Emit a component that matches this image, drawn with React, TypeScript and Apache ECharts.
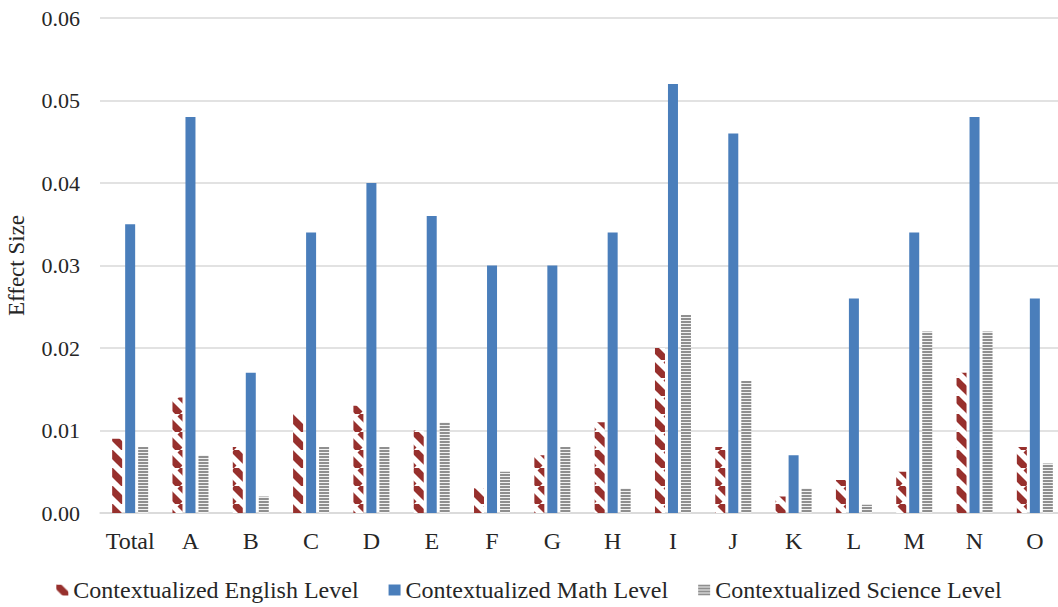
import React, { useEffect, useRef } from "react";
import * as echarts from "echarts";

const categories = ["Total", "A", "B", "C", "D", "E", "F", "G", "H", "I", "J", "K", "L", "M", "N", "O"];
const englishValues = [0.009, 0.014, 0.008, 0.012, 0.013, 0.010, 0.003, 0.007, 0.011, 0.020, 0.008, 0.002, 0.004, 0.005, 0.017, 0.008];
const mathValues = [0.035, 0.048, 0.017, 0.034, 0.040, 0.036, 0.030, 0.030, 0.034, 0.052, 0.046, 0.007, 0.026, 0.034, 0.048, 0.026];
const scienceValues = [0.008, 0.007, 0.002, 0.008, 0.008, 0.011, 0.005, 0.008, 0.003, 0.024, 0.016, 0.003, 0.001, 0.022, 0.022, 0.006];
const seriesNames = ["Contextualized English Level", "Contextualized Math Level", "Contextualized Science Level"];

function diagPattern(): string {
  const T = 18;
  const c = document.createElement("canvas");
  c.width = T;
  c.height = T;
  const ctx = c.getContext("2d")!;
  ctx.fillStyle = "#ffffff";
  ctx.fillRect(0, 0, T, T);
  ctx.strokeStyle = "#97302d";
  ctx.lineWidth = 7;
  for (const k of [-T, 0, T]) {
    ctx.beginPath();
    ctx.moveTo(k, 0);
    ctx.lineTo(k + T, T);
    ctx.stroke();
  }
  return c.toDataURL();
}

function hPattern(): string {
  const c = document.createElement("canvas");
  c.width = 4;
  c.height = 3;
  const ctx = c.getContext("2d")!;
  ctx.fillStyle = "#f2f2f2";
  ctx.fillRect(0, 0, 4, 3);
  ctx.fillStyle = "#8f8f8f";
  ctx.fillRect(0, 0, 4, 2);
  return c.toDataURL();
}

export default function App() {
  const ref = useRef<HTMLDivElement>(null);
  useEffect(() => {
    if (!ref.current) return;
    const chart = echarts.init(ref.current, undefined, { renderer: "svg" });
    const font = "'Liberation Serif', 'Times New Roman', serif";
    const txt = "#262626";
    const engColor: any = { image: diagPattern(), repeat: "repeat" };
    const sciColor: any = { image: hPattern(), repeat: "repeat" };
    chart.setOption({
      animation: false,
      backgroundColor: "#ffffff",
      textStyle: { fontFamily: font },
      grid: { left: 100, width: 965, top: 18, bottom: 94, containLabel: false, outerBoundsMode: "none" },
      legend: {
        top: 573,
        left: "center",
        itemWidth: 12,
        itemHeight: 11,
        itemGap: 30,
        textStyle: { fontFamily: font, fontSize: 24, color: txt },
        icon: "rect",
        data: seriesNames,
      },
      xAxis: {
        type: "category",
        data: categories,
        axisLine: { lineStyle: { color: "#d9d9d9", width: 1.5 } },
        axisTick: { show: false },
        axisLabel: { fontFamily: font, fontSize: 24, color: txt, margin: 16, interval: 0 },
      },
      yAxis: {
        type: "value",
        min: 0,
        max: 0.06,
        interval: 0.01,
        name: "Effect Size",
        nameLocation: "middle",
        nameGap: 72,
        nameTextStyle: { fontFamily: font, fontSize: 23, color: txt },
        axisLine: { show: false },
        axisTick: { show: false },
        splitLine: { lineStyle: { color: "#d9d9d9", width: 1.5 } },
        axisLabel: {
          fontFamily: font,
          fontSize: 22,
          color: txt,
          margin: 20,
          formatter: (v: number) => v.toFixed(2),
        },
      },
      series: [
        { name: seriesNames[0], type: "bar", data: englishValues, barWidth: 10, barGap: "30%", itemStyle: { color: engColor } },
        { name: seriesNames[1], type: "bar", data: mathValues, barWidth: 10, barGap: "30%", itemStyle: { color: "#4a7ebb" } },
        { name: seriesNames[2], type: "bar", data: scienceValues, barWidth: 10, barGap: "30%", itemStyle: { color: sciColor } },
      ],
    });
    return () => chart.dispose();
  }, []);
  return <div ref={ref} style={{ position: "absolute", left: 0, top: 0, width: 1058, height: 607 }} />;
}
